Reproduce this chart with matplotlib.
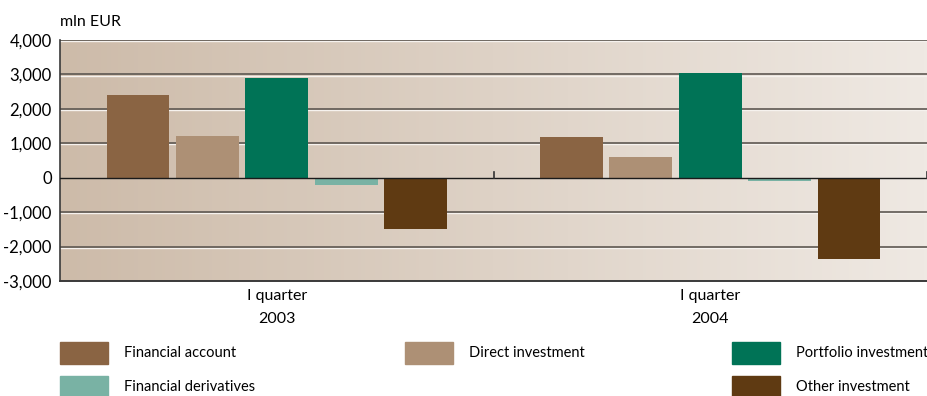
import numpy as np
import matplotlib.pyplot as plt
from matplotlib.patches import Rectangle
from matplotlib.colors import LinearSegmentedColormap
import matplotlib.transforms as mtransforms

plt.rcParams['font.family'] = ['Lato', 'DejaVu Sans']
plt.rcParams['font.size'] = 11

periods = ['I quarter\n2003', 'I quarter\n2004']
series = ['Financial account', 'Direct investment', 'Portfolio investment',
          'Financial derivatives', 'Other investment']
values = {
    'Financial account':     [2400, 1180],
    'Direct investment':     [1200, 600],
    'Portfolio investment':  [2900, 3040],
    'Financial derivatives': [-210, -90],
    'Other investment':      [-1500, -2350],
}
colors = ['#8a6443', '#ad9075', '#007356', '#79b2a4', '#5f3a12']
yticks = [-3000, -2000, -1000, 0, 1000, 2000, 3000, 4000]

W, H = 928, 396
fig = plt.figure(figsize=(W / 100, H / 100), dpi=100)
ax = fig.add_axes([60 / W, 1 - 281 / H, 867 / W, 241 / H])

# background gradient
grad = LinearSegmentedColormap.from_list('bg', ['#cdbba9', '#efe9e3'])
ax.imshow(np.linspace(0, 1, 256)[None, :], aspect='auto', cmap=grad,
          extent=[-0.5, 1.5, -3000, 4000], zorder=0)

# embossed grid lines
light = mtransforms.offset_copy(ax.transData, fig=fig, x=0, y=-1.2, units='dots')
for yv in yticks[1:]:
    if yv == 0:
        continue
    ax.plot([-0.5, 1.5], [yv, yv], color='#f6f2ee', lw=1.0, zorder=1, transform=light)
    ax.plot([-0.5, 1.5], [yv, yv], color='#5e5852', lw=1.2, zorder=1.5)

x = np.arange(len(periods))
width, step = 0.145, 0.16
for i, name in enumerate(series):
    ax.bar(x + (i - 2) * step, values[name], width, color=colors[i], zorder=2)

ax.axhline(0, color='#1a1a1a', lw=1.0, zorder=3)
for xv in [0.5, 1.5]:
    ax.plot([xv, xv], [0, 180], color='#333333', lw=1.2, zorder=3, clip_on=False)

ax.set_xlim(-0.5, 1.5)
ax.set_ylim(-3000, 4000)
ax.set_yticks(yticks)
ax.set_yticklabels([f'{v:,}' for v in yticks], fontsize=12)
ax.set_xticks(x)
ax.set_xticklabels(periods, fontsize=11.5, linespacing=1.75)
ax.tick_params(length=0, pad=6)
ax.tick_params(axis='x', pad=6)
for s in ['top', 'right']:
    ax.spines[s].set_visible(False)
ax.spines['left'].set_color('#3a3a3a')
ax.spines['bottom'].set_color('#3a3a3a')
ax.spines['left'].set_linewidth(1.2)
ax.spines['bottom'].set_linewidth(1.4)

fig.text(60 / W, 1 - 22 / H, 'mln EUR', fontsize=11.5, va='center', ha='left')

# legend
leg_pos = [(60, 353), (405, 353), (732, 353), (60, 387), (732, 387)]
for (px, py), name, c in zip(leg_pos, series, colors):
    fig.patches.append(Rectangle((px / W, 1 - (py + 11) / H), 48 / W, 22 / H,
                                 transform=fig.transFigure, color=c))
    fig.text((px + 64) / W, 1 - py / H, name, fontsize=10.5, va='center', ha='left')

fig.savefig('out.png', dpi=100)
